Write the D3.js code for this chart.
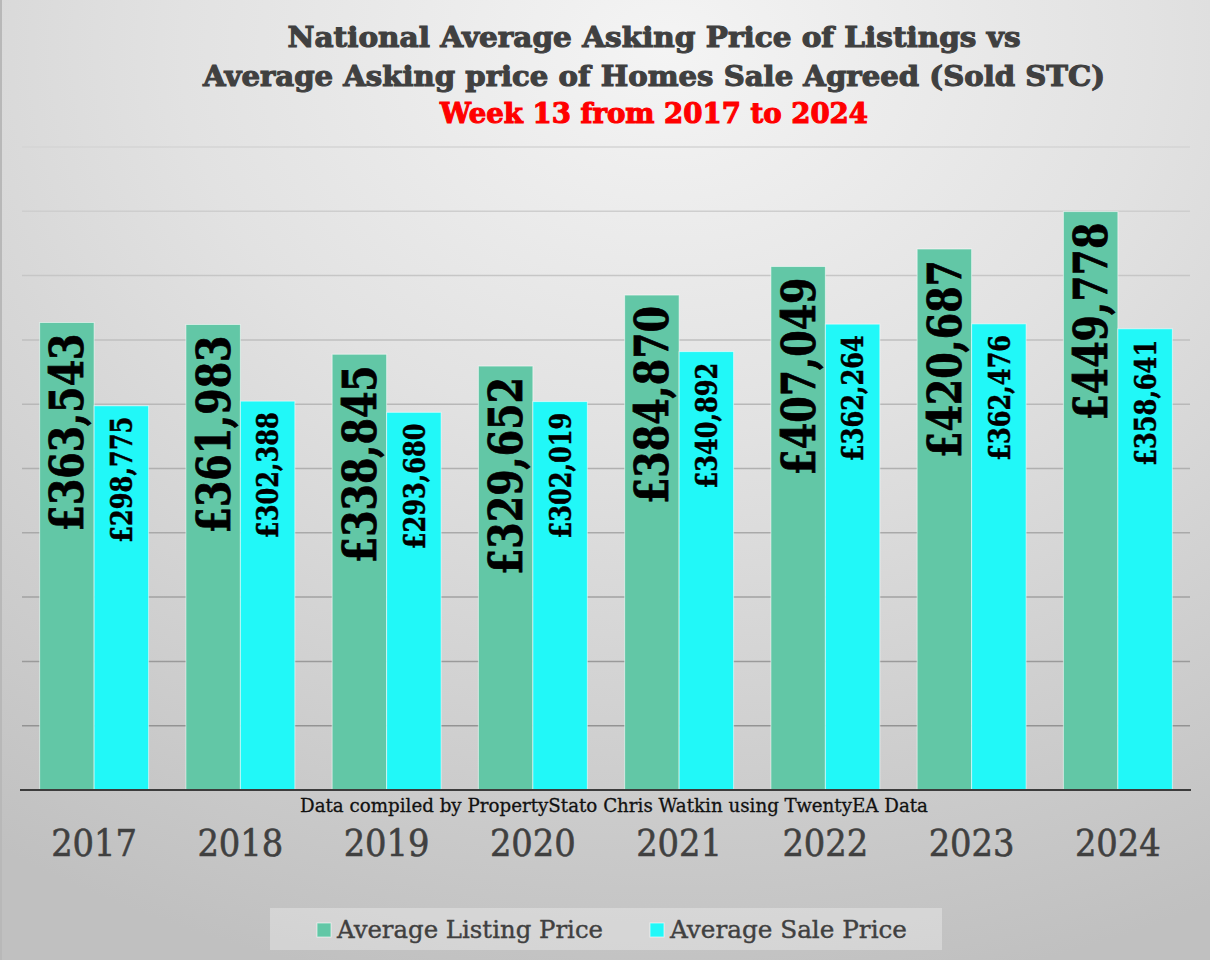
<!DOCTYPE html>
<html>
<head>
<meta charset="utf-8">
<script src="https://cdn.jsdelivr.net/npm/d3@7"></script>
<style>
  html, body { margin: 0; padding: 0; background: #d8d8d8; }
  svg { display: block; }
</style>
</head>
<body>
<script>
//chart data
const years = ["2017", "2018", "2019", "2020", "2021", "2022", "2023", "2024"];
const listingPrices = [363543, 361983, 338845, 329652, 384870, 407049, 420687, 449778];
const salePrices = [298775, 302388, 293680, 302019, 340892, 362264, 362476, 358641];
const seriesNames = ["Average Listing Price", "Average Sale Price"];
const titleLines = [
  "National Average Asking Price of Listings vs",
  "Average Asking price of Homes Sale Agreed (Sold STC)",
  "Week 13 from 2017 to 2024"
];
const sourceNote = "Data compiled by PropertyStato Chris Watkin using TwentyEA Data";

//visual setup
const width = 1210;
const height = 960;
const colors = ["#62c7a6", "#21f8f8"];
const slab = "'DejaVu Serif', serif";

let svg = d3.select("body").append("svg")
  .attr("width", width)
  .attr("height", height);

//background gradient
let defs = svg.append("defs");
let bg = defs.append("radialGradient")
  .attr("id", "bg")
  .attr("cx", "55%").attr("cy", "5%")
  .attr("r", "100%");
bg.append("stop").attr("offset", "0%").attr("stop-color", "#f4f4f4");
bg.append("stop").attr("offset", "40%").attr("stop-color", "#e2e2e2");
bg.append("stop").attr("offset", "100%").attr("stop-color", "#c0c0c0");

svg.append("rect")
  .attr("width", width).attr("height", height)
  .attr("fill", "url(#bg)");
svg.append("rect")
  .attr("width", 2).attr("height", height)
  .attr("fill", "#b8b8b8");

//scales
let x0 = d3.scaleBand()
  .domain(years)
  .range([21, 1191])
  .paddingInner(0.255)
  .paddingOuter(0.1275);
let x1 = d3.scaleBand()
  .domain(seriesNames)
  .range([0, x0.bandwidth()]);
let y = d3.scaleLinear()
  .domain([0, 500000])
  .range([790, 147]);

//gridlines
let gridColor = d3.scaleLinear().domain([147, 726]).range(["#d5d5d5", "#939393"]);
svg.append("g").selectAll("line")
  .data(y.ticks(10).filter(t => t > 0))
  .enter().append("line")
    .attr("x1", 22).attr("x2", 1190)
    .attr("y1", d => y(d)).attr("y2", d => y(d))
    .attr("stroke", d => gridColor(y(d)))
    .attr("stroke-width", 1.5);

//bars
let rows = years.map((yr, i) => ({
  year: yr,
  values: [
    {series: seriesNames[0], value: listingPrices[i], k: 0},
    {series: seriesNames[1], value: salePrices[i], k: 1}
  ]
}));

let groups = svg.append("g").selectAll("g")
  .data(rows)
  .enter().append("g")
    .attr("transform", d => "translate(" + x0(d.year) + ",0)");

groups.selectAll("rect")
  .data(d => d.values)
  .enter().append("rect")
    .attr("x", d => x1(d.series))
    .attr("y", d => y(d.value))
    .attr("width", x1.bandwidth())
    .attr("height", d => y(0) - y(d.value))
    .attr("fill", d => colors[d.k])
    .attr("stroke", "rgba(255,255,255,0.55)")
    .attr("stroke-width", 1);

//value labels, rotated, hanging from the top of each bar
let fmt = d3.format(",");
groups.selectAll("text")
  .data(d => d.values)
  .enter().append("text")
    .attr("transform", d => "translate(" + (x1(d.series) + x1.bandwidth() / 2) + "," + (y(d.value) + 11) + ") rotate(-90)")
    .attr("text-anchor", "end")
    .attr("dy", "0.36em")
    .attr("font-family", slab)
    .attr("font-weight", "bold")
    .attr("font-size", d => d.k === 0 ? 46 : 30)
    .attr("textLength", d => d.k === 0 ? 198 : 126)
    .attr("lengthAdjust", "spacingAndGlyphs")
    .attr("fill", "#000")
    .attr("stroke", "#000")
    .attr("stroke-width", d => d.k === 0 ? 0.8 : 0.5)
    .text(d => "£" + fmt(d.value));

//axis line
svg.append("line")
  .attr("x1", 20).attr("x2", 1191)
  .attr("y1", y(0)).attr("y2", y(0))
  .attr("stroke", "#3c3c3c")
  .attr("stroke-width", 2);

//year labels
svg.append("g").selectAll("text")
  .data(years)
  .enter().append("text")
    .attr("x", d => x0(d) + x0.bandwidth() / 2)
    .attr("y", 856)
    .attr("text-anchor", "middle")
    .attr("font-family", slab)
    .attr("font-size", 38)
    .attr("textLength", 86)
    .attr("lengthAdjust", "spacingAndGlyphs")
    .attr("fill", "#404040")
    .attr("stroke", "#404040")
    .attr("stroke-width", 0.6)
    .text(d => d);

//source note
svg.append("text")
  .attr("x", 614).attr("y", 812)
  .attr("text-anchor", "middle")
  .attr("font-family", slab)
  .attr("font-size", 18)
  .attr("textLength", 628)
  .attr("lengthAdjust", "spacingAndGlyphs")
  .attr("fill", "#111")
  .attr("stroke", "#111")
  .attr("stroke-width", 0.3)
  .text(sourceNote);

//title
const titleY = [47, 86, 123];
const titleLen = [733, 902, 428];
svg.append("g").selectAll("text")
  .data(titleLines)
  .enter().append("text")
    .attr("x", 654)
    .attr("y", (d, i) => titleY[i])
    .attr("text-anchor", "middle")
    .attr("font-family", slab)
    .attr("font-weight", "bold")
    .attr("font-size", 28)
    .attr("textLength", (d, i) => titleLen[i])
    .attr("lengthAdjust", "spacingAndGlyphs")
    .attr("fill", (d, i) => i === 2 ? "#ff0000" : "#404040")
    .attr("stroke", (d, i) => i === 2 ? "#ff0000" : "#404040")
    .attr("stroke-width", 1.1)
    .text(d => d);

//legend
let legend = svg.append("g");
legend.append("rect")
  .attr("x", 270).attr("y", 908)
  .attr("width", 672).attr("height", 42)
  .attr("fill", "rgba(255,255,255,0.3)");
const legendX = [317, 650];
const legendLen = [266, 237];
let items = legend.selectAll("g")
  .data(seriesNames)
  .enter().append("g")
    .attr("transform", (d, i) => "translate(" + legendX[i] + ",0)");
items.append("rect")
  .attr("x", 0).attr("y", 923)
  .attr("width", 14).attr("height", 14)
  .attr("fill", (d, i) => colors[i])
  .attr("stroke", "rgba(255,255,255,0.6)");
items.append("text")
  .attr("x", 20).attr("y", 938)
  .attr("font-family", slab)
  .attr("font-size", 25)
  .attr("textLength", (d, i) => legendLen[i])
  .attr("lengthAdjust", "spacingAndGlyphs")
  .attr("fill", "#404040")
  .attr("stroke", "#404040")
  .attr("stroke-width", 0.4)
  .text(d => d);
</script>
</body>
</html>
